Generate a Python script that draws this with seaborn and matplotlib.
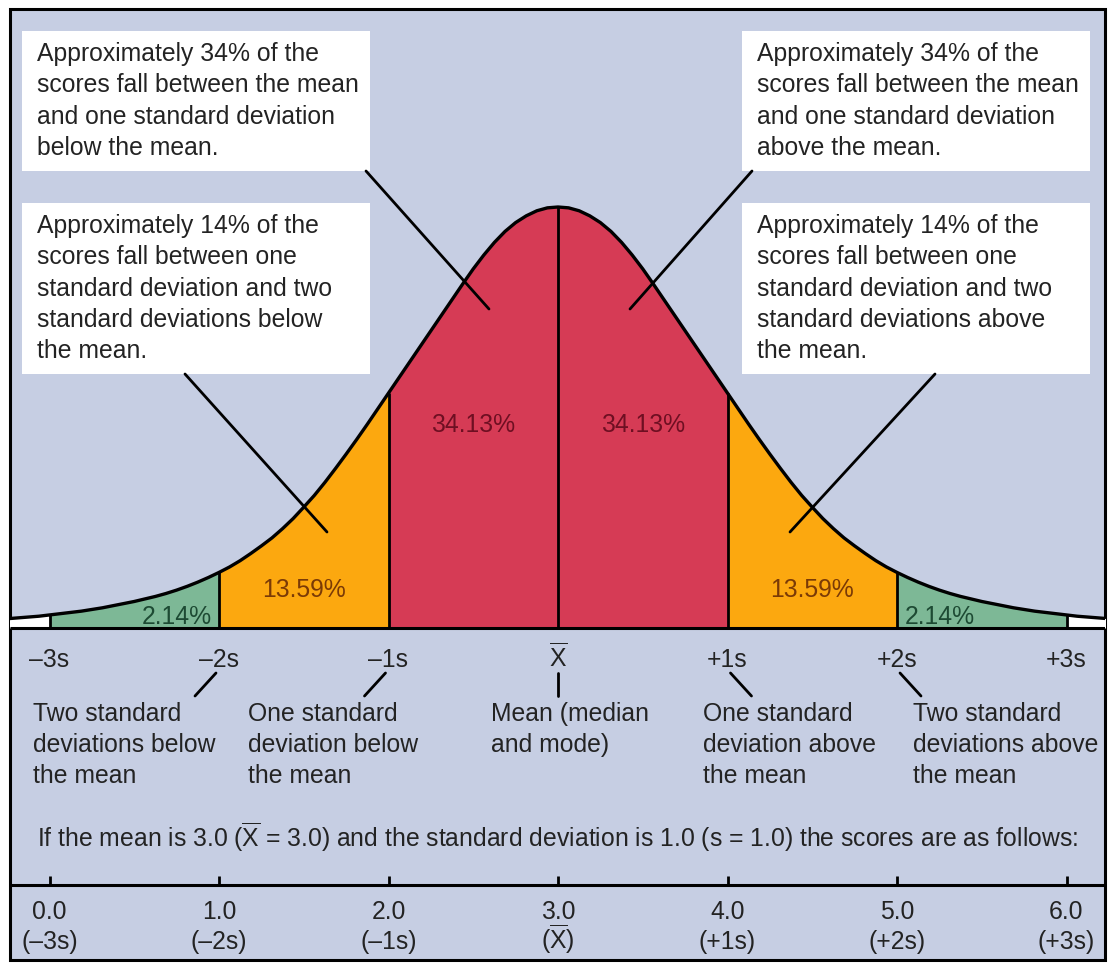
import numpy as np
import pandas as pd
import seaborn as sns
import matplotlib.pyplot as plt
from matplotlib.patches import Rectangle

# bell curve, right half: height as a fraction of the peak
half_z = np.arange(0, 3.26, 0.0625)
half_height = [1.000, 0.998, 0.991, 0.979, 0.963, 0.942, 0.916, 0.886, 0.853,
               0.817, 0.780, 0.743, 0.706, 0.669, 0.632, 0.595, 0.558, 0.521,
               0.484, 0.448, 0.413, 0.379, 0.346, 0.315, 0.287, 0.260, 0.236,
               0.214, 0.195, 0.177, 0.160, 0.145, 0.132, 0.120, 0.109, 0.099,
               0.090, 0.082, 0.075, 0.069, 0.063, 0.058, 0.053, 0.048, 0.044,
               0.040, 0.037, 0.034, 0.031, 0.028, 0.026, 0.024, 0.022]

band_edges = [-3, -2, -1, 0, 1, 2, 3]
band_pcts = ['2.14%', '13.59%', '34.13%', '34.13%', '13.59%', '2.14%']
band_colors = ['#7db896', '#fca80f', '#d63b55', '#d63b55', '#fca80f', '#7db896']
pct_colors = ['#1d4a33', '#7a3a06', '#6e0f22', '#6e0f22', '#7a3a06', '#1d4a33']

XBAR = r'$\overline{\mathrm{X}}$'
sigma_labels = ['\u20133s', '\u20132s', '\u20131s', XBAR, '+1s', '+2s', '+3s']
score_values = ['0.0', '1.0', '2.0', '3.0', '4.0', '5.0', '6.0']
score_sigma = ['(\u20133s)', '(\u20132s)', '(\u20131s)', '(' + XBAR + ')', '(+1s)', '(+2s)', '(+3s)']

descriptions = [
    (-2, ['Two standard', 'deviations below', 'the mean']),
    (-1, ['One standard', 'deviation below', 'the mean']),
    (0, ['Mean (median', 'and mode)']),
    (1, ['One standard', 'deviation above', 'the mean']),
    (2, ['Two standard', 'deviations above', 'the mean']),
]

boxes = [
    ['Approximately 34% of the', 'scores fall between the mean',
     'and one standard deviation', 'below the mean.'],
    ['Approximately 14% of the', 'scores fall between one',
     'standard deviation and two', 'standard deviations below', 'the mean.'],
    ['Approximately 34% of the', 'scores fall between the mean',
     'and one standard deviation', 'above the mean.'],
    ['Approximately 14% of the', 'scores fall between one',
     'standard deviation and two', 'standard deviations above', 'the mean.'],
]

footer = ('If the mean is 3.0 (' + XBAR + ' = 3.0) and the standard deviation '
          'is 1.0 (s = 1.0) the scores are as follows:')

sns.set_theme(style='white')
plt.rcParams['font.family'] = ['Liberation Sans', 'DejaVu Sans']
plt.rcParams['mathtext.fontset'] = 'custom'
plt.rcParams['mathtext.rm'] = 'Liberation Sans'

BG = '#c6cee3'
INK = '#232323'
FS = 17.8

# pixel helpers for layout (x centre 558 px, 169.5 px per sd, baseline 628 px, peak 421 px tall)
def px(x):
    return (x - 558) / 169.5

def py(y):
    return (628 - y) / 421

fig = plt.figure(figsize=(11.1, 9.63), dpi=100)
ax = fig.add_axes([0, 0, 1, 1])
ax.set_xlim(px(0), px(1110))
ax.set_ylim(py(963), py(0))
ax.set_axis_off()

frame = Rectangle((px(10), py(960)), px(1105) - px(10), py(9) - py(960),
                  facecolor=BG, edgecolor='black', lw=2.2, zorder=0)
ax.add_patch(frame)

z = np.r_[-half_z[:0:-1], half_z]
h = np.r_[half_height[:0:-1], half_height]
curve = pd.DataFrame({'z': z, 'height': h})

# coloured bands under the curve
eps = 1e-9
for lo, hi, col in zip(band_edges[:-1], band_edges[1:], band_colors):
    m = (curve.z >= lo - eps) & (curve.z <= hi + eps)
    ax.fill_between(curve.z[m], 0, curve.height[m], color=col, lw=0, zorder=1)
for m in [curve.z <= band_edges[0] + eps, curve.z >= band_edges[-1] - eps]:
    ax.fill_between(curve.z[m], 0, curve.height[m], color='white', lw=0, zorder=1)

sns.lineplot(data=curve, x='z', y='height', color='black', lw=2.4, ax=ax, zorder=3)

edge_h = [curve.height[np.isclose(curve.z, e)].iloc[0] for e in band_edges]
ax.vlines(band_edges, 0, edge_h, color='black', lw=2.0, zorder=2)
ax.hlines(0, px(10), px(1105), color='black', lw=2.2, zorder=3)

for a in ax.lines + ax.collections:
    a.set_clip_path(frame)

# percentages inside the bands
pct_x = [-2.25, -1.5, -0.5, 0.5, 1.5, 2.25]
pct_y = [617, 590, 425, 425, 590, 617]
for x, y, t, c in zip(pct_x, pct_y, band_pcts, pct_colors):
    ax.text(x, py(y), t, color=c, fontsize=FS, ha='center', va='center', zorder=4)

# white call-out boxes
box_pos = [(22, 31, 171), (22, 203, 374), (742, 31, 171), (742, 203, 374)]
for (bx, top, bot), lines in zip(box_pos, boxes):
    w = 348
    ax.add_patch(Rectangle((px(bx), py(bot)), px(bx + w) - px(bx), py(top) - py(bot),
                           facecolor='white', edgecolor='none', zorder=4))
    for i, line in enumerate(lines):
        ax.text(px(bx + 15), py(top + 30 + i * 31.3), line, color=INK,
                fontsize=FS, ha='left', va='baseline', zorder=6)

leaders = [((366, 171), (489, 309)), ((185, 374), (327, 532)),
           ((752, 171), (630, 309)), ((935, 374), (790, 532))]
for (x0, y0), (x1, y1) in leaders:
    ax.plot([px(x0), px(x1)], [py(y0), py(y1)], color='black', lw=2.0, zorder=5)

# sd labels under the curve
for e, t in zip(band_edges, sigma_labels):
    ax.text(e, py(667), t, color=INK, fontsize=FS, ha='center', va='baseline')

# small pointers from sd labels to descriptions
for e, lines in descriptions:
    dx = 21 * np.sign(e)
    x0 = 558 + e * 169.5 + 3 * np.sign(e)
    ax.plot([px(x0), px(x0 + dx)], [py(673), py(696)], color='black', lw=2.0)

desc_x = {-2: 33, -1: 248, 0: 491, 1: 703, 2: 913}
for e, lines in descriptions:
    for i, line in enumerate(lines):
        ax.text(px(desc_x[e]), py(721 + i * 31), line, color=INK, fontsize=FS,
                ha='left', va='baseline')

ax.text(0, py(847), footer, color=INK, fontsize=FS, ha='center', va='baseline')

# score axis at the bottom
ax.hlines(py(885), px(10), px(1105), color='black', lw=2.2)
ax.vlines(band_edges, py(885), py(876), color='black', lw=2.0)
for e, v, s in zip(band_edges, score_values, score_sigma):
    ax.text(e, py(919), v, color=INK, fontsize=FS, ha='center', va='baseline')
    ax.text(e, py(949), s, color=INK, fontsize=FS, ha='center', va='baseline')

fig.savefig('out.png', dpi=100, facecolor='white')
